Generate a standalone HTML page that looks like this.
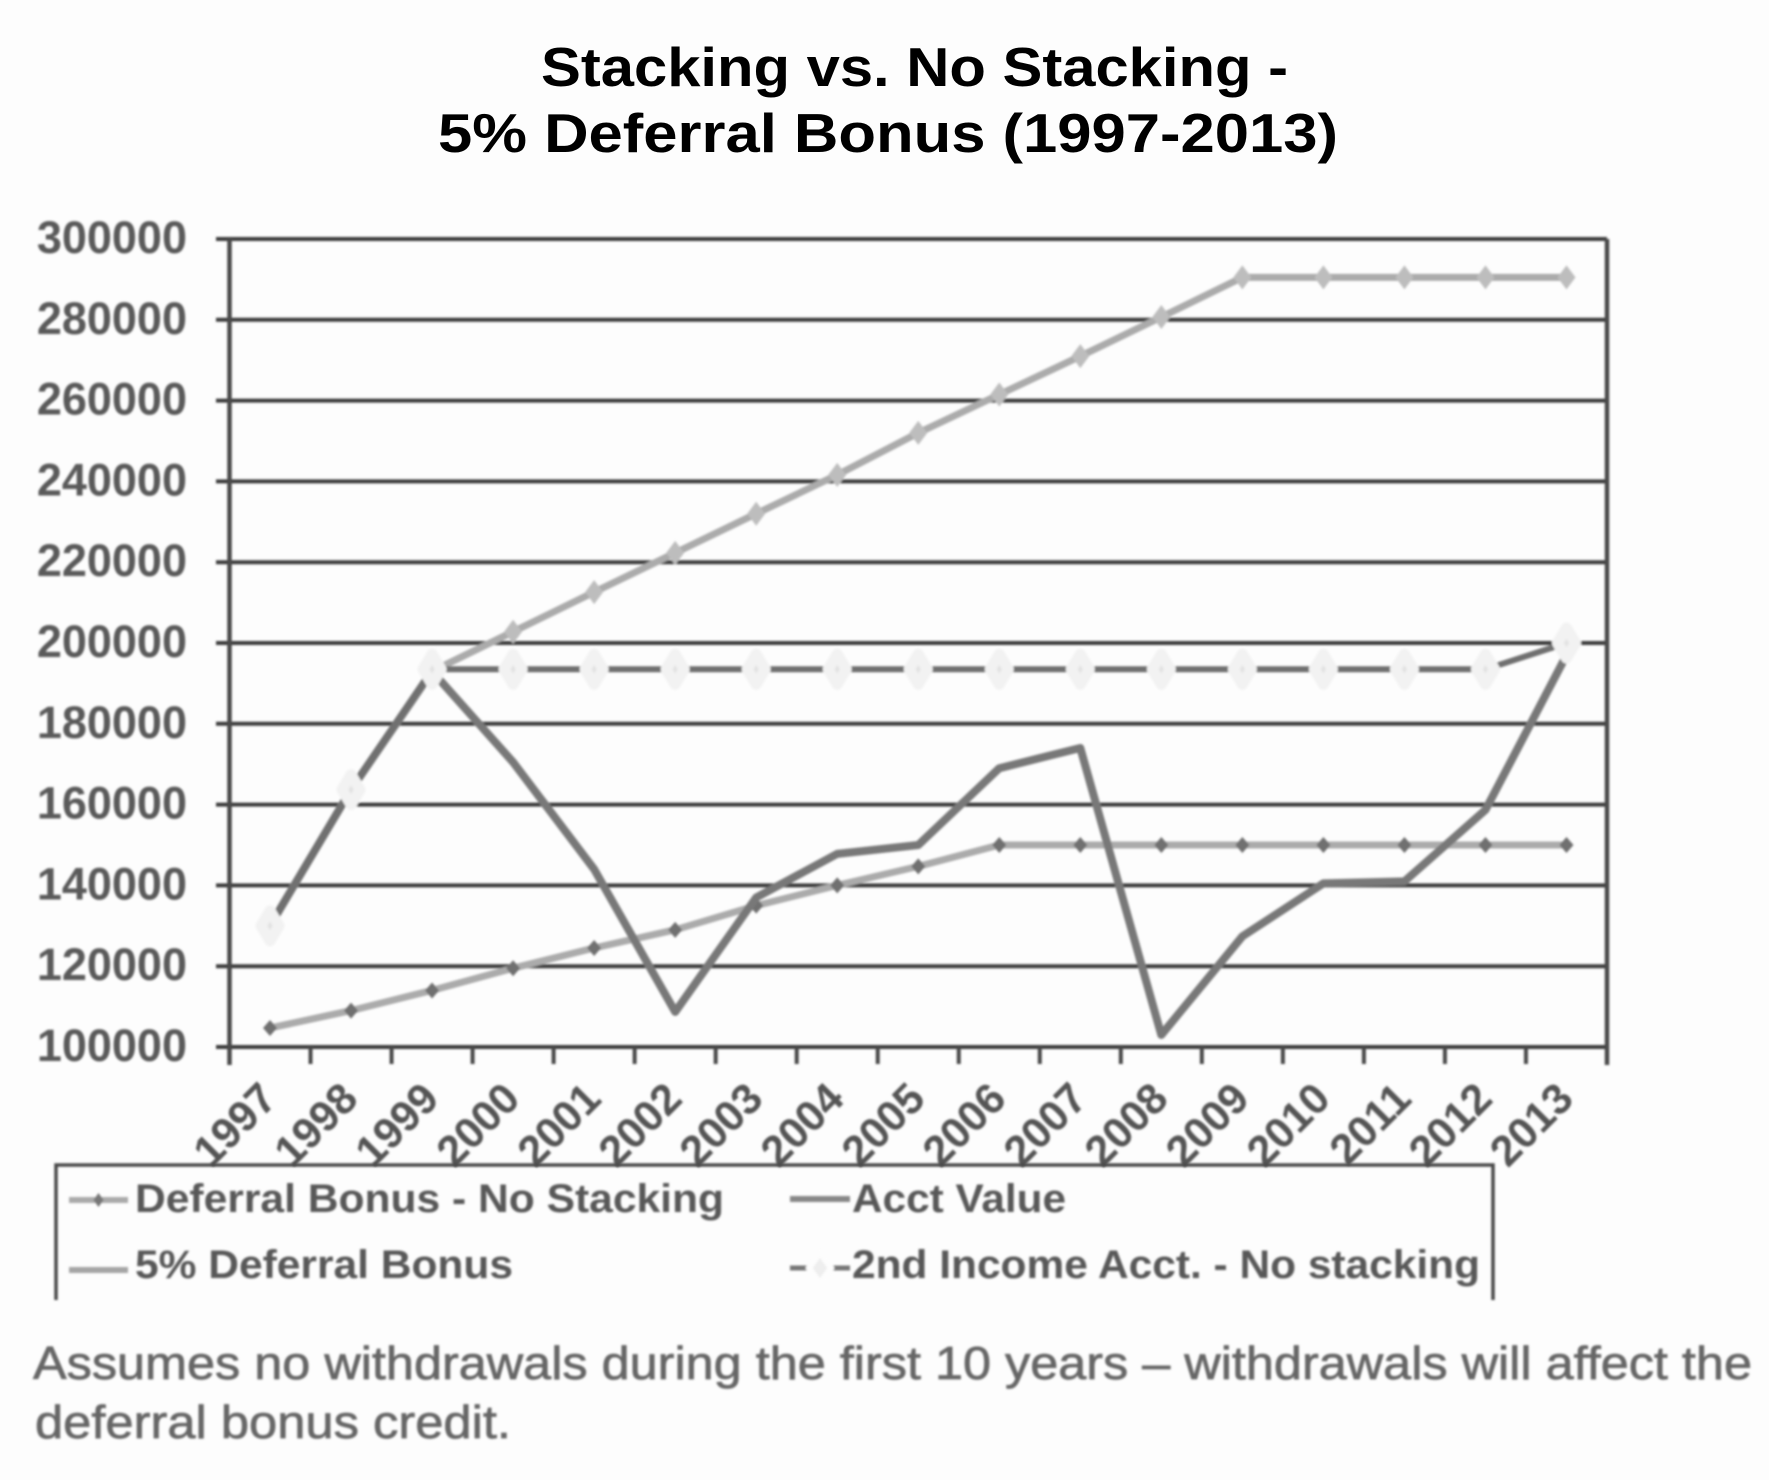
<!DOCTYPE html>
<html lang="en">
<head>
<meta charset="utf-8">
<title>Stacking vs. No Stacking</title>
<style>
  html, body { margin: 0; padding: 0; background: #fdfdfd; }
  svg { display: block; }
  text { font-family: "Liberation Sans", sans-serif; }
</style>
</head>
<body>
<svg id="chart" xmlns="http://www.w3.org/2000/svg" width="1769" height="1480" viewBox="0 0 1769 1480">
  <defs>
    <filter id="soft" x="-5%" y="-5%" width="110%" height="110%"><feGaussianBlur stdDeviation="1"/></filter>
    <filter id="softTitle" x="-5%" y="-20%" width="110%" height="140%"><feGaussianBlur stdDeviation="0.35"/></filter>
  </defs>
  <rect width="1769" height="1480" fill="#fdfdfd"/>
  <g filter="url(#softTitle)" font-weight="700" font-size="55" fill="#000">
    <text x="541" y="86" textLength="747" lengthAdjust="spacingAndGlyphs" style="font-family:'Liberation Sans',sans-serif">Stacking vs. No Stacking -</text>
    <text x="438" y="152" textLength="900" lengthAdjust="spacingAndGlyphs" style="font-family:'Liberation Sans',sans-serif">5% Deferral Bonus (1997-2013)</text>
  </g>
  <g id="plot" filter="url(#soft)"></g>
  <g filter="url(#soft)">
    <path d="M56 1300V1165H1493V1300" fill="none" stroke="#4a4a4a" stroke-width="3.500"/>
    <g>
      <line x1="69" y1="1200" x2="128" y2="1200" stroke="#aaa" stroke-width="6"/>
      <path d="M98.500 1193l5 7-5 7-5-7z" fill="#777"/>
      <text x="135" y="1212" font-size="40" font-weight="700" fill="#585858" textLength="589" lengthAdjust="spacingAndGlyphs">Deferral Bonus - No Stacking</text>
    </g>
    <g>
      <line x1="790" y1="1199" x2="850" y2="1199" stroke="#888" stroke-width="6"/>
      <text x="852" y="1212" font-size="40" font-weight="700" fill="#585858" textLength="214" lengthAdjust="spacingAndGlyphs">Acct Value</text>
    </g>
    <g>
      <line x1="69" y1="1270" x2="128" y2="1270" stroke="#a5a5a5" stroke-width="6"/>
      <text x="135" y="1278" font-size="40" font-weight="700" fill="#585858" textLength="378" lengthAdjust="spacingAndGlyphs">5% Deferral Bonus</text>
    </g>
    <g>
      <line x1="790" y1="1268" x2="850" y2="1268" stroke="#777" stroke-width="5"/>
      <path d="M820 1253l11 15-11 15-11-15z" fill="#eee" stroke="#fdfdfd" stroke-width="6"/>
      <text x="852" y="1278" font-size="40" font-weight="700" fill="#585858" textLength="628" lengthAdjust="spacingAndGlyphs">2nd Income Acct. - No stacking</text>
    </g>
  </g>
  <g filter="url(#soft)" font-size="46" fill="#666" stroke="#666" stroke-width="0.7">
    <text x="33" y="1379" textLength="1719" lengthAdjust="spacingAndGlyphs">Assumes no withdrawals during the first 10 years – withdrawals will affect the</text>
    <text x="35" y="1438" textLength="476" lengthAdjust="spacingAndGlyphs">deferral bonus credit.</text>
  </g>
</svg>
<script>
var categories = ['1997','1998','1999','2000','2001','2002','2003','2004','2005','2006','2007','2008','2009','2010','2011','2012','2013'];
var yTicks = [100000,120000,140000,160000,180000,200000,220000,240000,260000,280000,300000];
var deferralNoStacking = [104700,109000,114000,119500,124500,129000,135000,140000,144700,150000,150000,150000,150000,150000,150000,150000,150000];
var acctValue = [130000,163700,193000,170500,144000,108700,137000,147800,150000,169000,174000,103000,127400,140500,141000,158700,197000];
var fivePctDeferralBonus = [130000,163700,193000,202800,212600,222300,232000,241600,252000,261500,271000,280700,290500,290500,290500,290500,290500];
var secondIncomeNoStacking = [130000,163700,193500,193500,193500,193500,193500,193500,193500,193500,193500,193500,193500,193500,193500,193500,200000];

var plotLeft = 229.5, plotRight = 1607, plotTop = 239, plotBottom = 1047;
var yMin = 100000, yMax = 300000;
function xScale(i) { return plotLeft + (i + 0.5) * (plotRight - plotLeft) / categories.length; }
function xEdge(i) { return plotLeft + i * (plotRight - plotLeft) / categories.length; }
function yScale(v) { return plotBottom - (v - yMin) / (yMax - yMin) * (plotBottom - plotTop); }

var NS = 'http://www.w3.org/2000/svg';
var plot = document.getElementById('plot');
function make(tag, props, parent) {
  var el = document.createElementNS(NS, tag);
  for (var k in props) el.setAttribute(k, props[k]);
  (parent || plot).appendChild(el);
  return el;
}
function pathFor(values) {
  return values.map(function (v, i) { return (i ? 'L' : 'M') + xScale(i).toFixed(1) + ' ' + yScale(v).toFixed(1); }).join('');
}
function diamond(cx, cy, w, h) {
  return 'M' + cx + ' ' + (cy - h) + 'L' + (cx + w) + ' ' + cy + 'L' + cx + ' ' + (cy + h) + 'L' + (cx - w) + ' ' + cy + 'Z';
}

yTicks.forEach(function (t) {
  var y = yScale(t);
  var grid = make('line', { x1: 216, x2: plotRight, y1: y, y2: y, stroke: '#3c3c3c', 'stroke-width': 4 });
  
  
  var label = make('text', { x: 187, y: y + 14, 'text-anchor': 'end', 'font-size': 45, 'font-weight': 700, fill: '#5a5a5a' });
  label.textContent = String(t);
  
  
});

var leftAxis = make('line', { x1: plotLeft, x2: plotLeft, y1: plotTop, y2: plotBottom + 18, stroke: '#4a4a4a', 'stroke-width': 4.5 });


var rightAxis = make('line', { x1: plotRight, x2: plotRight, y1: plotTop, y2: plotBottom + 18, stroke: '#4a4a4a', 'stroke-width': 4.5 });



for (var e = 1; e < categories.length; e++) {
  var tick = make('line', { x1: xEdge(e), x2: xEdge(e), y1: plotBottom, y2: plotBottom + 17, stroke: '#4a4a4a', 'stroke-width': 4 });
  
  
}

categories.forEach(function (c, i) {
  var x = xScale(i) + 9, y = 1101;
  var label = make('text', { x: x, y: y, 'text-anchor': 'end', 'font-size': 43, 'font-weight': 700, fill: '#555', transform: 'rotate(-45 ' + x + ' ' + y + ')' });
  label.textContent = c;
  
  
});

var line5 = make('path', { d: pathFor(fivePctDeferralBonus), fill: 'none', stroke: '#ababab', 'stroke-width': 7, 'stroke-linejoin': 'round' });


fivePctDeferralBonus.forEach(function (v, i) {
  var m = make('path', { d: diamond(xScale(i), yScale(v), 9, 12), fill: '#bdbdbd' });
  
  
});

var lineNo = make('path', { d: pathFor(deferralNoStacking), fill: 'none', stroke: '#ababab', 'stroke-width': 7, 'stroke-linejoin': 'round' });


deferralNoStacking.forEach(function (v, i) {
  var m = make('path', { d: diamond(xScale(i), yScale(v), 7, 8), fill: '#707070' });
  
  
});

var lineAcct = make('path', { d: pathFor(acctValue), fill: 'none', stroke: '#787878', 'stroke-width': 8, 'stroke-linejoin': 'round' });



var line2nd = make('path', { d: pathFor(secondIncomeNoStacking), fill: 'none', stroke: '#707070', 'stroke-width': 6, 'stroke-linejoin': 'round' });


secondIncomeNoStacking.forEach(function (v, i) {
  var m = make('path', { d: diamond(xScale(i), yScale(v), 9, 15), fill: '#e2e2e2', stroke: '#f2f2f2', 'stroke-width': 11, 'stroke-linejoin': 'round' });
  
  
});
</script>
</body>
</html>
